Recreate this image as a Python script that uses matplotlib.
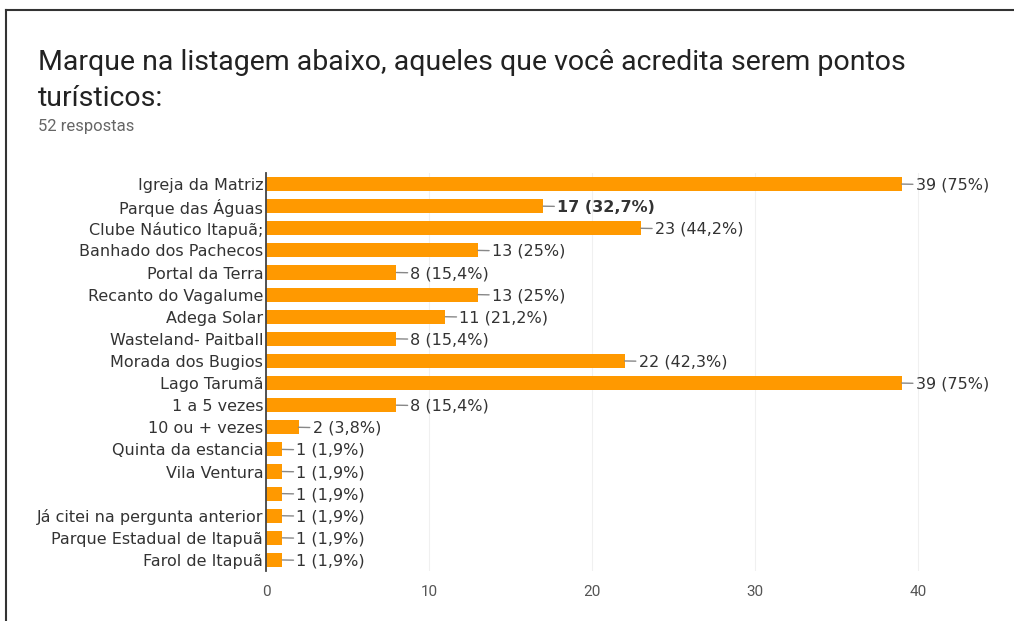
import matplotlib
matplotlib.use("Agg")
import matplotlib.pyplot as plt
from matplotlib.lines import Line2D

categories = [
    "Igreja da Matriz", "Parque das Águas", "Clube Náutico Itapuã;",
    "Banhado dos Pachecos", "Portal da Terra", "Recanto do Vagalume",
    "Adega Solar", "Wasteland- Paitball", "Morada dos Bugios", "Lago Tarumã",
    "1 a 5 vezes", "10 ou + vezes", "Quinta da estancia", "Vila Ventura", "",
    "Já citei na pergunta anterior", "Parque Estadual de Itapuã", "Farol de Itapuã",
]
counts = [39, 17, 23, 13, 8, 13, 11, 8, 22, 39, 8, 2, 1, 1, 1, 1, 1, 1]
pct_labels = ["75%", "32,7%", "44,2%", "25%", "15,4%", "25%", "21,2%", "15,4%",
              "42,3%", "75%", "15,4%", "3,8%", "1,9%", "1,9%", "1,9%", "1,9%",
              "1,9%", "1,9%"]
xticks = [0, 10, 20, 30, 40]
bold_idx = 1

fig = plt.figure(figsize=(10.14, 6.21), dpi=100)
ax = fig.add_axes([0.2623, 0.0805, 0.7234, 0.6409])

ypos = list(range(len(categories)))
ax.barh(ypos, counts, height=0.64, color="#ff9900", zorder=2)
ax.set_ylim(len(categories) - 0.5, -0.5)
ax.set_xlim(0, 45)

ax.set_yticks(ypos)
ax.set_yticklabels(categories, fontsize=11.5, color="#333333", family="DejaVu Sans")
ax.set_xticks(xticks)
ax.set_xticklabels([str(t) for t in xticks], fontsize=11, color="#555555", family="Roboto")
ax.tick_params(axis="y", length=0, pad=2)
ax.tick_params(axis="x", length=0, pad=10)

for s in ["top", "right", "bottom"]:
    ax.spines[s].set_visible(False)
ax.spines["left"].set_color("#444444")
ax.spines["left"].set_linewidth(1.3)
ax.grid(axis="x", color="#f0f0f0", lw=0.8, zorder=0)
ax.set_axisbelow(True)

for i, (c, p) in enumerate(zip(counts, pct_labels)):
    ax.annotate(f"{c} ({p})", xy=(c, i), xytext=(14, -1), textcoords="offset pixels",
                ha="left", va="center", fontsize=11.5, color="#333333",
                family="DejaVu Sans",
                fontweight="bold" if i == bold_idx else "normal",
                arrowprops=dict(arrowstyle="-", color="#888888", lw=1,
                                shrinkA=0, shrinkB=0))

fig.text(38 / 1014, 1 - 63 / 621, "Marque na listagem abaixo, aqueles que você acredita serem pontos",
         fontsize=20.5, family="Roboto", color="#222222", va="center", ha="left")
fig.text(38 / 1014, 1 - 98 / 621, "turísticos:",
         fontsize=20.5, family="Roboto", color="#222222", va="center", ha="left")
fig.text(38 / 1014, 1 - 127 / 621, "52 respostas",
         fontsize=12, family="Roboto", color="#666666", va="center", ha="left")

# frame around the screenshot
fig.add_artist(Line2D([6 / 1014, 1], [1 - 10 / 621, 1 - 10 / 621], color="#333333", lw=1.5))
fig.add_artist(Line2D([6 / 1014, 6 / 1014], [0, 1 - 10 / 621], color="#333333", lw=1.5))

fig.savefig("out.png", dpi=100)
